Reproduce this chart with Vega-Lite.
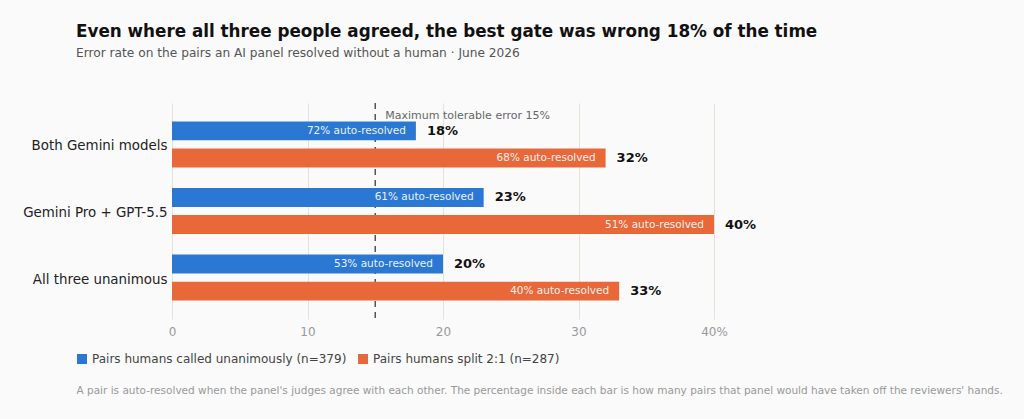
{
  "$schema": "https://vega.github.io/schema/vega-lite/v6.json",
  "width": 542,
  "height": 216,
  "autosize": "none",
  "padding": {"left": 172, "top": 103, "right": 310, "bottom": 100},
  "background": "#fafafa",
  "title": {
    "text": "Even where all three people agreed, the best gate was wrong 18% of the time",
    "subtitle": "Error rate on the pairs an AI panel resolved without a human · June 2026",
    "anchor": "start",
    "frame": "group",
    "dx": -96,
    "offset": 43,
    "font": "DejaVu Sans",
    "fontSize": 16.8,
    "fontWeight": "bold",
    "color": "#111111",
    "subtitleFont": "DejaVu Sans",
    "subtitleFontSize": 12.2,
    "subtitleColor": "#555555",
    "subtitlePadding": 6
  },
  "data": {
    "values": [
      {"panel": "Both Gemini models", "group": "Pairs humans called unanimously (n=379)", "error": 18, "label": "18%", "auto": "72% auto-resolved"},
      {"panel": "Both Gemini models", "group": "Pairs humans split 2:1 (n=287)", "error": 32, "label": "32%", "auto": "68% auto-resolved"},
      {"panel": "Gemini Pro + GPT-5.5", "group": "Pairs humans called unanimously (n=379)", "error": 23, "label": "23%", "auto": "61% auto-resolved"},
      {"panel": "Gemini Pro + GPT-5.5", "group": "Pairs humans split 2:1 (n=287)", "error": 40, "label": "40%", "auto": "51% auto-resolved"},
      {"panel": "All three unanimous", "group": "Pairs humans called unanimously (n=379)", "error": 20, "label": "20%", "auto": "53% auto-resolved"},
      {"panel": "All three unanimous", "group": "Pairs humans split 2:1 (n=287)", "error": 33, "label": "33%", "auto": "40% auto-resolved"}
    ]
  },
  "encoding": {
    "y": {
      "field": "panel",
      "type": "nominal",
      "title": null,
      "scale": {
        "domain": ["Both Gemini models", "Gemini Pro + GPT-5.5", "All three unanimous"],
        "paddingInner": 0,
        "paddingOuter": 0.122
      },
      "axis": {
        "ticks": false,
        "domain": false,
        "labelPadding": 5,
        "labelOffset": 2,
        "labelFontSize": 13.4,
        "labelColor": "#222222",
        "labelFont": "DejaVu Sans"
      }
    },
    "yOffset": {
      "field": "group",
      "type": "nominal",
      "scale": {
        "domain": ["Pairs humans called unanimously (n=379)", "Pairs humans split 2:1 (n=287)"],
        "paddingInner": 0.304,
        "paddingOuter": 0.381
      }
    },
    "x": {
      "field": "error",
      "type": "quantitative",
      "scale": {"domain": [0, 40], "nice": false},
      "axis": {
        "values": [0, 10, 20, 30, 40],
        "labelExpr": "datum.value == 40 ? '40%' : datum.label",
        "labelFlush": false,
        "ticks": false,
        "domain": false,
        "grid": true,
        "gridColor": "#e6e2d8",
        "labelPadding": 7,
        "labelFontSize": 12,
        "labelColor": "#999999",
        "labelFont": "DejaVu Sans",
        "title": "A pair is auto-resolved when the panel's judges agree with each other. The percentage inside each bar is how many pairs that panel would have taken off the reviewers' hands.",
        "titleX": -96,
        "titleY": 74,
        "titleAlign": "left",
        "titleBaseline": "alphabetic",
        "titleLimit": 0,
        "titleFont": "DejaVu Sans",
        "titleFontSize": 10.5,
        "titleFontWeight": "normal",
        "titleColor": "#999999"
      }
    }
  },
  "layer": [
    {
      "data": {"values": [{"limit": 15, "note": "Maximum tolerable error 15%"}]},
      "mark": {"type": "rule", "color": "#555555", "strokeDash": [6, 5], "strokeWidth": 1.5},
      "encoding": {"x": {"field": "limit", "type": "quantitative"}, "y": null, "yOffset": null}
    },
    {
      "mark": {"type": "bar"},
      "encoding": {
        "color": {
          "field": "group",
          "type": "nominal",
          "scale": {
            "domain": ["Pairs humans called unanimously (n=379)", "Pairs humans split 2:1 (n=287)"],
            "range": ["#2b78d4", "#e8683a"]
          },
          "legend": {
            "orient": "none",
            "legendX": -96,
            "legendY": 250,
            "direction": "horizontal",
            "title": null,
            "symbolType": "square",
            "symbolSize": 100,
            "symbolStrokeWidth": 0,
            "labelFontSize": 12,
            "labelLimit": 0,
            "labelColor": "#444444",
            "labelFont": "DejaVu Sans",
            "columnPadding": 10,
            "labelOffset": 4
          }
        }
      }
    },
    {
      "mark": {"type": "text", "align": "right", "dx": -10, "fontSize": 10.5, "color": "#ffffff", "opacity": 0.9, "font": "DejaVu Sans"},
      "encoding": {"text": {"field": "auto"}}
    },
    {
      "mark": {"type": "text", "align": "left", "dx": 11, "fontSize": 13, "fontWeight": "bold", "color": "#111111", "font": "DejaVu Sans"},
      "encoding": {"text": {"field": "label"}}
    },
    {
      "data": {"values": [{"limit": 15, "note": "Maximum tolerable error 15%"}]},
      "mark": {"type": "text", "align": "left", "dx": 10, "dy": 5, "fontSize": 11, "color": "#666666", "font": "DejaVu Sans"},
      "encoding": {
        "x": {"field": "limit", "type": "quantitative"},
        "y": {"datum": "Both Gemini models", "type": "nominal", "bandPosition": 0},
        "yOffset": null,
        "text": {"field": "note"}
      }
    }
  ],
  "config": {
    "view": {"stroke": null},
    "font": "DejaVu Sans"
  }
}
